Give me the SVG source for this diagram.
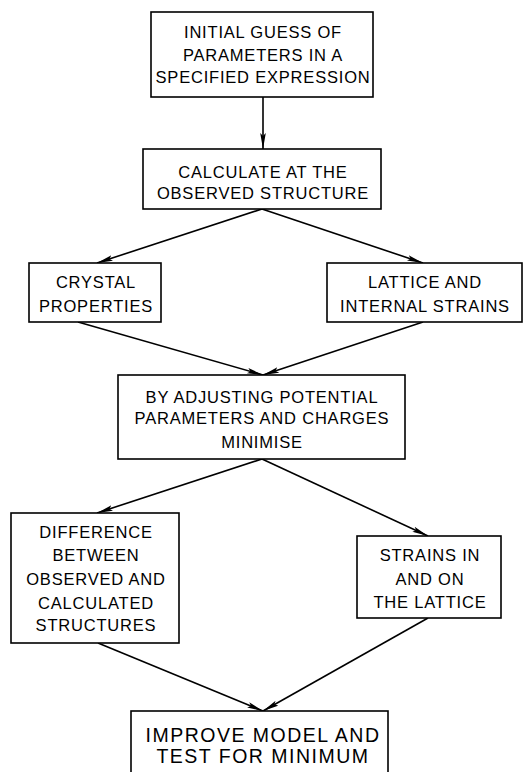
<svg xmlns="http://www.w3.org/2000/svg" width="524" height="772" viewBox="0 0 524 772">
<defs>
<marker id="ah" markerUnits="userSpaceOnUse" markerWidth="17" markerHeight="8" refX="16" refY="3.5" orient="auto">
<path d="M0,0.7 L16,3.5 L0,6.3 L3,3.5 Z" fill="#000"/>
</marker>
<style>
.box{fill:#fff;stroke:#000;stroke-width:1.6}
.t{font-family:"Liberation Sans",Arial,sans-serif;font-size:16.5px;letter-spacing:0.8px;text-anchor:middle;fill:#000}
.big{font-size:19.5px;letter-spacing:1.5px}
.c{stroke:#000;stroke-width:1.6;fill:none;marker-end:url(#ah)}
</style>
</defs>
<rect width="524" height="772" fill="#fff"/>
<g id="connectors">
<line class="c" x1="263" y1="97" x2="263" y2="149"/>
<line class="c" x1="262" y1="209" x2="97" y2="263"/>
<line class="c" x1="262" y1="209" x2="423" y2="263"/>
<line class="c" x1="78" y1="322" x2="263" y2="375"/>
<line class="c" x1="423" y1="322" x2="263" y2="375"/>
<line class="c" x1="262" y1="459" x2="97" y2="513"/>
<line class="c" x1="262" y1="459" x2="428" y2="536"/>
<line class="c" x1="98" y1="643" x2="263" y2="711"/>
<line class="c" x1="428" y1="618" x2="263" y2="711"/>
</g>
<g id="n1">
<rect class="box" x="151" y="12" width="222" height="85"/>
<text class="t" x="263" y="38">INITIAL GUESS OF</text>
<text class="t" x="263" y="61">PARAMETERS IN A</text>
<text class="t" x="263" y="83">SPECIFIED EXPRESSION</text>
</g>
<g id="n2">
<rect class="box" x="143" y="149" width="238" height="60"/>
<text class="t" x="263" y="178">CALCULATE AT THE</text>
<text class="t" x="263" y="199">OBSERVED STRUCTURE</text>
</g>
<g id="n3">
<rect class="box" x="29" y="263" width="132" height="59"/>
<text class="t" x="96" y="288">CRYSTAL</text>
<text class="t" x="96" y="312">PROPERTIES</text>
</g>
<g id="n4">
<rect class="box" x="327" y="263" width="195" height="59"/>
<text class="t" x="425" y="288">LATTICE AND</text>
<text class="t" x="425" y="312">INTERNAL STRAINS</text>
</g>
<g id="n5">
<rect class="box" x="118" y="375" width="287" height="84"/>
<text class="t" x="262" y="403">BY ADJUSTING POTENTIAL</text>
<text class="t" x="262" y="424">PARAMETERS AND CHARGES</text>
<text class="t" x="262" y="448">MINIMISE</text>
</g>
<g id="n6">
<rect class="box" x="11" y="513" width="168" height="130"/>
<text class="t" x="96" y="538">DIFFERENCE</text>
<text class="t" x="96" y="561">BETWEEN</text>
<text class="t" x="96" y="585">OBSERVED AND</text>
<text class="t" x="96" y="609">CALCULATED</text>
<text class="t" x="96" y="631">STRUCTURES</text>
</g>
<g id="n7">
<rect class="box" x="357" y="536" width="144" height="82"/>
<text class="t" x="430" y="561">STRAINS IN</text>
<text class="t" x="430" y="585">AND ON</text>
<text class="t" x="430" y="608">THE LATTICE</text>
</g>
<g id="n8">
<rect class="box" x="131" y="711" width="257" height="80"/>
<text class="t big" x="263" y="742">IMPROVE MODEL AND</text>
<text class="t big" x="263" y="763">TEST FOR MINIMUM</text>
</g>
</svg>
